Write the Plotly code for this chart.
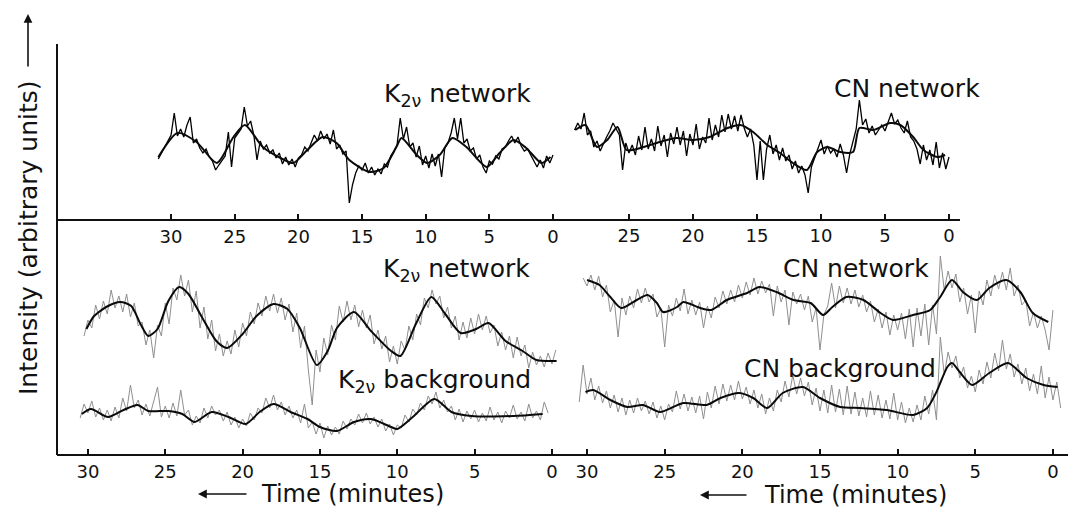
import plotly.graph_objects as go

W, H = 1072, 510
STEP = 0.25  # minutes between samples of the recorder traces

# ---------------- upper panel: K2v network (left) ----------------
K2V_TOP_START = 31.0
k2v_top_raw = [
    6.0, 6.6, 7.2, 7.8,
    8.4, 10.6, 8.3, 9.0, 8.2, 9.4, 10.2, 7.6, 8.0, 7.1, 6.6, 7.0,
    6.2, 5.8, 4.9, 5.4, 5.9, 6.3, 8.7, 5.2, 8.1, 8.6, 9.0, 11.2,
    9.3, 9.8, 8.4, 5.9, 7.8, 7.0, 7.4, 6.6, 6.9, 6.1, 6.6, 5.5,
    6.2, 5.4, 6.0, 5.2, 6.1, 6.4, 7.2, 6.8, 7.6, 8.4, 7.8, 8.8,
    8.0, 8.5, 7.5, 8.9, 7.0, 7.4, 6.5, 6.8, 1.6, 3.4, 4.6, 5.3,
    4.9, 5.6, 4.6, 5.2, 4.4, 5.0, 4.5, 5.5, 5.2, 6.3, 6.8, 7.4,
    10.1, 8.0, 9.2, 7.2, 7.6, 6.2, 7.3, 5.4, 6.3, 5.1, 6.5, 5.3,
    6.5, 4.2, 7.1, 7.6, 8.6, 10.1, 8.0, 10.1, 7.6, 8.0, 6.8, 7.1,
    6.0, 6.4, 5.2, 4.6, 5.8, 5.5, 6.3, 6.0, 7.0, 7.2, 7.8, 8.3,
    7.6, 8.2, 7.3, 6.8, 7.0, 6.4, 5.9, 5.2, 5.9, 5.1, 6.3, 5.6,
    6.4,
]
k2v_top_fit_t = [31.0, 29.5, 28.0, 26.4, 25.1, 24.2, 22.8, 21.4, 20.4, 19.3, 18.1, 17.0,
                 16.0, 14.4, 13.3, 12.3, 11.9, 10.7, 9.9, 8.9, 7.9, 6.8, 5.2, 4.2,
                 3.1, 2.1, 0.9, 0.2]
k2v_top_fit = [6.2, 8.6, 7.7, 5.6, 8.2, 9.4, 7.2, 6.1, 5.6, 6.9, 8.2, 7.6,
               5.9, 4.7, 5.1, 7.2, 8.1, 6.4, 5.6, 6.4, 8.1, 7.2, 5.2, 6.6,
               7.9, 7.1, 5.6, 6.2]

# ---------------- upper panel: CN network (right) ----------------
CN_TOP_START = 29.25
cn_top_raw = [
    8.9, 9.6, 9.0, 10.6, 8.4, 8.8, 7.2, 7.8, 6.8, 7.6, 8.2, 8.8,
    9.6, 9.0, 8.4, 4.9, 7.6, 6.6, 7.4, 6.4, 8.3, 6.9, 9.2, 7.0,
    8.0, 6.8, 9.3, 7.3, 8.4, 6.2, 8.6, 7.5, 9.2, 7.4, 8.8, 6.3,
    8.5, 7.4, 9.5, 7.0, 8.2, 7.6, 10.1, 7.9, 9.4, 8.2, 10.4, 8.7,
    10.5, 9.0, 10.3, 8.8, 10.4, 9.1, 8.2, 9.0, 7.4, 3.9, 7.8, 3.9,
    7.0, 8.4, 6.5, 7.4, 5.9, 7.1, 5.8, 6.4, 5.0, 5.8, 4.6, 5.3,
    4.4, 2.6, 5.2, 6.1, 7.0, 7.9, 6.5, 7.3, 6.6, 7.0, 6.2, 7.5,
    6.4, 4.6, 6.5, 7.8, 9.0, 11.9, 9.4, 10.0, 8.6, 9.3, 8.4, 8.9,
    9.4, 8.8, 9.7, 10.6, 9.5, 9.9, 9.1, 8.6, 9.8, 8.2, 7.8, 7.0,
    5.5, 7.4, 5.9, 6.9, 5.4, 7.7, 5.1, 6.6, 5.0, 6.2,
]
cn_top_fit_t = [29.2, 28.4, 27.5, 26.7, 25.9, 25.2, 24.1, 22.6, 21.3, 20.0, 18.7, 17.3,
                16.3, 15.3, 14.2, 13.2, 12.2, 11.1, 10.3, 9.5, 8.5, 7.5, 7.0, 5.9,
                4.6, 3.8, 2.8, 2.0, 0.9, 0.3]
cn_top_fit = [8.9, 9.4, 7.2, 7.9, 9.2, 6.9, 7.1, 7.7, 8.1, 7.9, 8.2, 9.1,
              9.4, 8.7, 7.4, 6.6, 5.6, 4.9, 6.7, 7.2, 6.7, 6.7, 9.1, 8.9,
              9.6, 9.4, 8.2, 6.9, 6.2, 6.4]

# ---------------- lower panel: K2v network and background ----------------
K2V_NET_START = 30.25
k2v_net_raw = [
    11.8, 13.4, 12.6, 14.9, 13.5, 15.3, 14.0, 16.4, 14.6, 15.8, 14.2, 16.0,
    13.7, 15.1, 12.8, 13.2, 10.9, 12.4, 9.6, 12.9, 11.8, 15.1, 13.0, 16.6,
    15.4, 17.9, 15.8, 17.4, 14.2, 16.3, 12.6, 14.7, 11.5, 13.4, 10.3, 12.0,
    9.8, 11.3, 10.0, 12.4, 10.7, 13.1, 11.8, 14.2, 13.0, 15.1, 13.8, 15.8,
    14.3, 16.0, 14.1, 15.6, 13.4, 15.0, 12.2, 14.1, 10.6, 12.8, 8.4, 4.9,
    10.4, 8.2, 11.6, 9.9, 12.9, 11.4, 14.8, 13.2, 15.3, 13.4, 14.9, 12.7,
    14.4, 12.6, 13.9, 11.0, 12.4, 10.5, 11.8, 9.2, 10.8, 9.0, 11.3, 10.4,
    12.8, 11.4, 14.0, 12.9, 15.6, 14.6, 16.4, 15.0, 15.8, 13.6, 14.7, 12.6,
    13.8, 11.4, 13.2, 11.6, 13.6, 12.0, 14.0, 12.4, 13.8, 12.1, 12.9, 10.8,
    12.2, 10.4, 11.8, 9.6, 11.7, 9.8, 10.9, 8.6, 10.2, 8.9, 9.8, 8.7,
    10.1, 9.0, 10.4,
]
k2v_net_fit_t = [30.1, 29.6, 28.7, 27.9, 27.2, 26.6, 26.1, 25.5, 24.8, 24.1, 23.5, 22.6,
                 21.7, 21.0, 20.0, 19.1, 18.0, 17.1, 16.3, 15.2, 14.5, 13.9, 12.8, 11.7,
                 10.4, 9.8, 8.8, 7.8, 6.9, 5.9, 4.9, 4.1, 3.0, 1.9, 1.0, -0.3]
k2v_net_fit = [12.5, 13.8, 14.8, 15.2, 14.8, 13.0, 11.8, 12.5, 15.3, 16.7, 16.0, 13.6,
               11.3, 10.6, 12.0, 13.8, 15.0, 14.5, 12.6, 8.9, 10.3, 12.6, 14.2, 12.3,
               10.3, 9.8, 13.0, 15.7, 14.0, 12.1, 12.5, 13.1, 11.3, 10.3, 9.4, 9.3]

K2V_BG_START = 30.5
k2v_bg_raw = [
    3.6, 5.0, 4.1, 5.3, 3.7, 4.6, 3.4, 4.4, 3.3, 4.7, 3.6, 5.6,
    4.3, 6.9, 4.6, 5.4, 3.9, 5.0, 3.8, 5.2, 6.7, 3.7, 4.8, 3.6,
    5.1, 3.8, 6.4, 3.9, 4.4, 2.9, 3.8, 3.1, 4.6, 3.6, 4.8, 3.9,
    4.4, 3.3, 4.2, 2.9, 3.7, 2.6, 3.5, 2.8, 4.1, 3.4, 4.6, 4.1,
    5.6, 4.6, 5.9, 4.4, 5.2, 3.9, 4.8, 3.6, 4.4, 3.1, 5.0, 2.6,
    3.2, 2.0, 3.1, 1.6, 2.8, 1.9, 2.7, 2.0, 3.3, 2.5, 3.5, 2.9,
    4.0, 3.1, 4.1, 3.0, 3.7, 2.7, 3.5, 2.3, 3.0, 1.9, 2.9, 2.6,
    3.9, 3.2, 4.5, 3.9, 5.1, 4.4, 5.8, 5.0, 6.2, 4.6, 5.4, 4.2,
    4.8, 3.4, 4.5, 3.2, 4.3, 3.5, 4.4, 3.2, 4.1, 3.3, 4.7, 3.4,
    4.2, 3.1, 4.3, 3.6, 4.9, 3.5, 4.2, 3.3, 5.0, 3.6, 4.3, 3.4,
    5.2, 4.1,
]
k2v_bg_fit_t = [30.4, 29.8, 28.7, 27.7, 26.8, 26.1, 24.8, 23.9, 23.1, 22.0, 20.9, 19.8,
                18.9, 18.0, 16.9, 15.8, 15.0, 13.9, 12.8, 11.7, 10.4, 10.0, 9.0, 7.6,
                6.5, 5.2, 2.5, 0.6]
k2v_bg_fit = [4.0, 4.5, 3.7, 4.4, 4.9, 4.3, 4.3, 4.0, 3.2, 4.2, 3.7, 3.0,
              4.2, 5.0, 4.2, 3.5, 2.7, 2.3, 3.2, 3.5, 2.7, 2.5, 3.7, 5.5,
              4.2, 3.8, 3.8, 4.0]

# ---------------- lower panel: CN network and background ----------------
CN_NET_START = 30.25
cn_net_raw = [
    17.6, 16.8, 17.9, 16.4, 17.8, 15.7, 16.9, 14.2, 15.4, 11.7, 15.6, 13.9,
    15.8, 14.6, 16.5, 15.1, 16.6, 15.2, 16.0, 13.7, 14.6, 10.7, 14.9, 13.8,
    15.6, 14.3, 16.5, 14.0, 15.4, 13.9, 15.2, 12.6, 14.8, 13.6, 15.7, 14.6,
    16.3, 15.0, 16.4, 15.2, 16.9, 15.6, 17.2, 15.9, 17.6, 16.0, 17.3, 16.1,
    17.0, 13.8, 16.8, 15.2, 16.4, 12.9, 16.2, 15.0, 16.0, 14.4, 15.8, 13.2,
    14.6, 10.4, 13.9, 14.8, 17.1, 14.6, 16.8, 15.1, 16.6, 15.0, 16.4, 14.7,
    15.9, 14.2, 15.3, 13.2, 14.5, 12.6, 14.2, 11.9, 13.9, 12.4, 14.1, 11.5,
    14.5, 10.7, 14.6, 11.8, 15.0, 10.9, 14.9, 12.0, 19.8, 16.4, 18.3, 16.6,
    18.0, 15.2, 16.6, 14.0, 15.9, 12.1, 16.3, 14.9, 17.4, 15.8, 17.9, 16.5,
    18.2, 16.4, 18.6, 15.8, 16.9, 14.9, 15.4, 12.8, 14.2, 12.6, 13.8, 12.4,
    10.4, 14.4,
]
cn_net_fit_t = [30.0, 29.2, 28.5, 27.8, 26.8, 26.1, 25.5, 25.1, 24.2, 23.8, 22.7, 22.0,
                21.0, 19.7, 18.9, 17.8, 16.7, 15.6, 14.8, 14.2, 13.3, 12.2, 11.1, 10.3,
                9.0, 7.9, 7.3, 6.5, 5.8, 4.9, 4.1, 3.0, 2.1, 1.3, 0.3]
cn_net_fit = [17.4, 16.9, 15.7, 14.6, 15.4, 15.9, 15.1, 14.2, 14.7, 15.2, 14.6, 14.4,
              15.4, 16.1, 16.7, 16.2, 15.4, 15.1, 13.9, 14.7, 15.7, 15.4, 14.1, 13.4,
              13.9, 14.4, 15.6, 17.4, 16.2, 15.4, 16.6, 17.4, 16.2, 14.1, 13.2]

CN_BG_START = 30.5
cn_bg_raw = [
    5.2, 8.9, 6.0, 7.6, 5.4, 6.8, 5.1, 6.3, 4.6, 5.9, 4.2, 5.6,
    3.9, 5.4, 4.1, 5.6, 4.3, 5.3, 4.0, 5.2, 3.6, 4.8, 3.4, 5.0,
    4.2, 6.3, 4.5, 6.0, 4.3, 5.7, 4.1, 5.8, 3.5, 6.2, 4.6, 6.8,
    5.0, 7.0, 5.3, 6.9, 5.4, 7.3, 5.5, 6.7, 5.0, 6.4, 4.6, 6.0,
    4.0, 5.6, 4.3, 6.4, 5.2, 7.3, 5.7, 7.9, 6.0, 7.6, 5.8, 7.2,
    4.9, 6.6, 4.3, 6.4, 4.1, 6.9, 4.2, 6.5, 3.9, 6.8, 4.0, 6.2,
    3.8, 5.6, 3.7, 6.3, 3.9, 5.9, 3.6, 5.4, 3.5, 6.1, 3.4, 5.2,
    3.1, 4.6, 3.2, 4.9, 3.4, 5.8, 4.0, 6.4, 3.4, 11.7, 7.9, 10.2,
    8.6, 9.8, 7.6, 8.7, 6.6, 7.8, 6.2, 8.4, 7.0, 9.2, 7.6, 10.1,
    8.3, 11.4, 8.5, 10.0, 7.7, 9.0, 7.0, 8.6, 6.3, 8.0, 6.0, 8.8,
    5.6, 7.7, 5.4, 7.2, 4.6,
]
cn_bg_fit_t = [30.1, 29.6, 28.5, 27.4, 26.4, 25.3, 23.8, 22.3, 21.4, 20.2, 19.3, 18.4,
               17.4, 16.1, 15.0, 13.7, 12.4, 10.7, 9.0, 8.1, 7.5, 6.8, 6.5, 6.0,
               5.2, 4.1, 2.9, 1.7, 0.6, -0.3]
cn_bg_fit = [6.2, 6.4, 5.4, 4.7, 4.9, 4.2, 5.1, 4.9, 5.6, 6.1, 5.6, 4.6,
             6.1, 6.7, 5.6, 4.7, 4.6, 4.4, 3.9, 4.6, 6.2, 8.7, 9.1, 8.2,
             6.9, 8.1, 9.1, 7.6, 6.9, 6.7]

TOP_TICKS_LEFT = [30, 25, 20, 15, 10, 5, 0]
TOP_TICKS_RIGHT = [25, 20, 15, 10, 5, 0]
BOTTOM_TICKS = [30, 25, 20, 15, 10, 5, 0]

FONT = "DejaVu Sans"
INK = "#111111"
RAW_TOP = dict(color="#000000", width=1.3)
RAW_LOW = dict(color="#8f8f8f", width=1.0)
FIT = dict(color="#0a0a0a", width=2.0, shape="spline", smoothing=0.7)


def px_x(p):
    return p / W


def px_y(p):
    return 1 - p / H


def times(start, n):
    return [start - STEP * i for i in range(n)]


fig = go.Figure()


def add_pair(raw, start, fit_t, fit, xa, ya, raw_style):
    fig.add_trace(go.Scatter(x=times(start, len(raw)), y=raw, mode="lines",
                             line=raw_style, xaxis=xa, yaxis=ya, hoverinfo="skip"))
    fig.add_trace(go.Scatter(x=fit_t, y=fit, mode="lines", line=FIT,
                             xaxis=xa, yaxis=ya, hoverinfo="skip"))


add_pair(k2v_top_raw, K2V_TOP_START, k2v_top_fit_t, k2v_top_fit, "x", "y", RAW_TOP)
add_pair(cn_top_raw, CN_TOP_START, cn_top_fit_t, cn_top_fit, "x2", "y", RAW_TOP)
add_pair(k2v_net_raw, K2V_NET_START, k2v_net_fit_t, k2v_net_fit, "x3", "y2", RAW_LOW)
add_pair(k2v_bg_raw, K2V_BG_START, k2v_bg_fit_t, k2v_bg_fit, "x3", "y2", RAW_LOW)
add_pair(cn_net_raw, CN_NET_START, cn_net_fit_t, cn_net_fit, "x4", "y2", RAW_LOW)
add_pair(cn_bg_raw, CN_BG_START, cn_bg_fit_t, cn_bg_fit, "x4", "y2", RAW_LOW)


def time_axis(dom, rng, ticks, anchor, lw):
    return dict(domain=[px_x(dom[0]), px_x(dom[1])], range=rng, anchor=anchor,
                tickmode="array", tickvals=ticks, ticktext=[str(v) for v in ticks],
                ticks="inside", ticklen=5, tickwidth=1.5, tickcolor=INK,
                ticklabelstandoff=0,
                showline=True, linecolor=INK, linewidth=lw,
                showgrid=False, zeroline=False,
                tickfont=dict(family=FONT, size=18, color=INK))


def level_axis(top_px, bottom_px):
    return dict(domain=[px_y(bottom_px), px_y(top_px)],
                range=[0, (bottom_px - top_px) / 10.0],
                visible=False, showgrid=False, zeroline=False)


fig.update_layout(
    width=W, height=H,
    margin=dict(l=0, r=0, t=0, b=0),
    paper_bgcolor="white", plot_bgcolor="rgba(0,0,0,0)",
    showlegend=False,
    xaxis=time_axis((57, 560), [38.96, -0.55], TOP_TICKS_LEFT, "y", 2.2),
    xaxis2=time_axis((560, 960), [30.39, -0.86], TOP_TICKS_RIGHT, "y", 1.6),
    xaxis3=time_axis((57, 560), [32.0, -0.52], BOTTOM_TICKS, "y2", 2.0),
    xaxis4=time_axis((560, 1068), [31.74, -0.97], BOTTOM_TICKS, "y2", 2.0),
    yaxis=level_axis(46, 219),
    yaxis2=level_axis(250, 454),
)

# vertical intensity axis
fig.add_shape(type="line", xref="paper", yref="paper",
              x0=px_x(57), x1=px_x(57), y0=px_y(44), y1=px_y(455),
              line=dict(color=INK, width=2))


def label(text, cx, cy, size, angle=0):
    fig.add_annotation(x=px_x(cx), y=px_y(cy), xref="paper", yref="paper",
                       text=text, showarrow=False, textangle=angle,
                       font=dict(family=FONT, size=size, color=INK),
                       xanchor="center", yanchor="middle")


def arrow(tip_x, tip_y, dx, dy):
    # arrow drawn from (tip + offset) to the tip
    fig.add_annotation(x=px_x(tip_x), y=px_y(tip_y), xref="paper", yref="paper",
                       ax=dx, ay=dy, text="", showarrow=True,
                       arrowhead=2, arrowsize=1.1, arrowwidth=1.6, arrowcolor=INK)


label("K<sub>2ν</sub> network", 457, 95, 25)
label("CN network", 907, 88, 25)
label("K<sub>2ν</sub> network", 456, 270, 25)
label("K<sub>2ν</sub> background", 434, 381, 25)
label("CN network", 856, 268, 25)
label("CN background", 840, 368, 25)

label("Time (minutes)", 352, 494, 24)
arrow(198, 494, 50, 0)
label("Time (minutes)", 855, 495, 24)
arrow(700, 495, 48, 0)

label("Intensity (arbitrary units)", 28, 238, 25, angle=-90)
arrow(28, 14, 0, 54)

fig.write_html("out.html")
